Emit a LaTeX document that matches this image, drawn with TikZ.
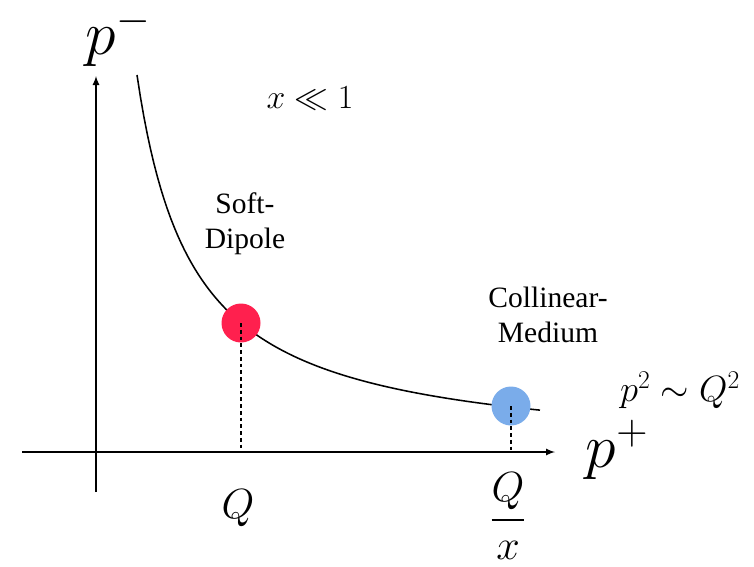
\RequirePackage{fix-cm}
\documentclass[tikz,border=0pt]{standalone}
\usepackage{amsmath,amssymb}
\usepackage{fontspec}
\setmainfont{Liberation Serif}
\begin{document}
\begin{tikzpicture}[
  x=0.025cm, y=-0.025cm,
  axis/.style={line width=1.2pt, -latex},
  dot/.style={circle, minimum size=39*0.025cm, inner sep=0pt},
  drop/.style={line width=1.3pt, dash pattern=on 2.8pt off 2pt},
  region/.style={font=\fontsize{21}{25}\selectfont, align=center},
  big/.style={font=\fontsize{44}{48}\selectfont, inner sep=0pt}
]
\useasboundingbox (0,0) rectangle (754,566);

% axes
\coordinate (O1) at (96,492);
\coordinate (O2) at (22,452);
\coordinate (Ytop) at (96,76);
\coordinate (Xend) at (555,452);
\draw[axis] (O1) -- (Ytop);
\draw[axis] (O2) -- (Xend);

% hyperbola
\draw[line width=1.1pt, domain=137:540, samples=120] plot (\x, {456.8 - 214.2/(\x - 80.9)*100});

% the two regions
\node[dot, fill={rgb,255:red,255;green,32;blue,78}] (soft) at (241,323) {};
\node[dot, fill={rgb,255:red,122;green,172;blue,234}] (coll) at (511,406) {};
\coordinate (Qs) at (241,452);
\coordinate (Qc) at (511,452);
\draw[drop] (soft.center) -- (Qs);
\draw[drop] (coll.center) -- (Qc);

% labels
\node[big] (pm) at (118,37) {$p^{-}$};
\node[big] (pp) at (617,450) {$p^{+}$};
\node[font=\fontsize{24}{28}\selectfont] (cond) at (310,98) {$x \ll 1$};
\node[font=\fontsize{26}{30}\selectfont] (virt) at (680,390) {$p^{2} \sim Q^{2}$};
\node[region] (lsoft) at (245,224) {Soft-\\Dipole};
\node[region] (lcoll) at (548,315) {Collinear-\\Medium};
\node[font=\fontsize{30}{34}\selectfont] (Q1) at (238,508) {$Q$};
\node[font=\fontsize{30}{34}\selectfont] (Q2) at (508,516) {$\dfrac{Q}{x}$};
\end{tikzpicture}
\end{document}
